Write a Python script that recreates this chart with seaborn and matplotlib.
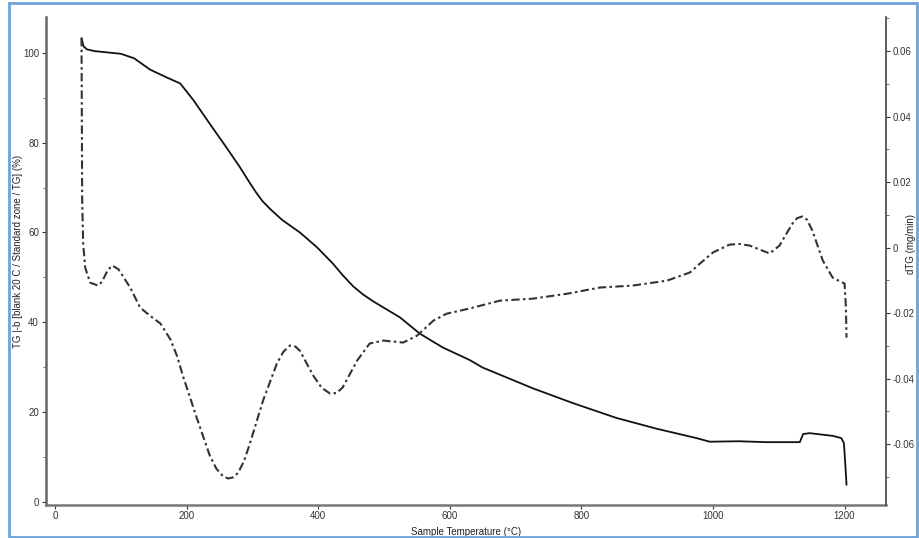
import matplotlib
matplotlib.use("Agg")
import matplotlib.pyplot as plt
import matplotlib.patches as patches
from matplotlib.ticker import MultipleLocator
import seaborn as sns
import pandas as pd

sns.set_style("white")
plt.rcParams['font.family'] = ['Liberation Sans', 'DejaVu Sans']

# TG curve (%)
tg_temp = [40, 43, 48, 60, 80, 100, 120, 144, 170, 190, 210, 236, 260, 281, 296, 305, 315,
           327, 345, 372, 398, 422, 437, 453, 468, 483, 524, 554, 589, 630, 650, 726, 787,
           853, 914, 975, 995, 1040, 1080, 1132, 1137, 1147, 1182, 1195, 1199, 1201, 1203]
tg_value = [103.3, 101.5, 100.8, 100.4, 100.1, 99.8, 98.8, 96.3, 94.5, 93.2, 89.5, 84.0, 79.0,
            74.5, 71.0, 69.0, 67.0, 65.2, 62.8, 60.0, 56.7, 53.1, 50.5, 48.0, 46.2, 44.7,
            41.1, 37.5, 34.4, 31.6, 29.9, 25.3, 22.0, 18.7, 16.3, 14.2, 13.4, 13.5, 13.3,
            13.3, 15.1, 15.3, 14.7, 14.2, 13.1, 8.7, 3.8]

# dTG curve (mg/min)
dtg_temp = [40, 41, 42.5, 45.6, 53, 65, 71, 80, 87, 96, 114, 129, 144, 160, 175, 185, 195,
            215, 235, 245, 255, 263, 270, 278, 287, 296, 316, 337, 347, 357, 365, 372, 392,
            405, 418, 428, 437, 459, 478, 499, 529, 550, 575, 595, 630, 676, 726, 778, 828,
            878, 930, 965, 980, 1000, 1025, 1040, 1056, 1086, 1101, 1121, 1128, 1136, 1143,
            1151, 1167, 1182, 1200, 1202, 1203]
dtg_value = [0.064, 0.0144, 0.0012, -0.0061, -0.0107, -0.0116, -0.0105, -0.0068, -0.0055,
             -0.0066, -0.0122, -0.0183, -0.0208, -0.0232, -0.0280, -0.0330, -0.0397, -0.0519,
             -0.0635, -0.0675, -0.0698, -0.0705, -0.0702, -0.0688, -0.0652, -0.0598, -0.0467,
             -0.0354, -0.0318, -0.0299, -0.0302, -0.0315, -0.0390, -0.0428, -0.0446, -0.0444,
             -0.0427, -0.0345, -0.0293, -0.0284, -0.0290, -0.0269, -0.0223, -0.0202, -0.0186,
             -0.0162, -0.0156, -0.0141, -0.0122, -0.0116, -0.0101, -0.0076, -0.0049, -0.0015,
             0.0009, 0.0011, 0.0006, -0.0018, 0.0006, 0.0074, 0.0090, 0.0095, 0.0085, 0.0052,
             -0.0040, -0.0092, -0.0110, -0.0180, -0.0275]

x_ticks = [0, 200, 400, 600, 800, 1000, 1200]
tg_ticks = [0, 20, 40, 60, 80, 100]
dtg_ticks = [-0.06, -0.04, -0.02, 0, 0.02, 0.04, 0.06]
dtg_labels = ["-0.06", "-0.04", "-0.02", "0", "0.02", "0.04", "0.06"]

tg_df = pd.DataFrame({"T": tg_temp, "TG": tg_value})
dtg_df = pd.DataFrame({"T": dtg_temp, "dTG": dtg_value})

fig = plt.figure(figsize=(9.2, 5.38), dpi=100)
ax = fig.add_axes([46 / 920, 1 - 505 / 538, (886 - 46) / 920, (505 - 17) / 538])
ax2 = ax.twinx()

sns.lineplot(data=tg_df, x="T", y="TG", ax=ax, color="#111111", linewidth=1.3,
             estimator=None, sort=False)
sns.lineplot(data=dtg_df, x="T", y="dTG", ax=ax2, color="#333333", linewidth=1.5,
             estimator=None, sort=False, linestyle=(0, (4, 1.6, 1.2, 1.6)))

ax.set_xlim(-14, 1263)
ax.set_ylim(-0.7, 108)
ax2.set_ylim(-0.0786, 0.0704)

tick_kw = dict(labelsize=7, colors="#333333", length=3, width=0.8, direction="out")
ax.set_xticks(x_ticks)
ax.set_xticklabels([str(v) for v in x_ticks])
ax.set_yticks(tg_ticks)
ax.set_yticklabels([str(v) for v in tg_ticks])
ax.yaxis.set_minor_locator(MultipleLocator(10))
ax.tick_params(axis="both", which="major", **tick_kw)
ax.tick_params(axis="y", which="minor", length=2, width=0.6, colors="#555555")
ax.tick_params(axis="x", bottom=True, pad=1.5)
ax.tick_params(axis="y", left=True, pad=2)

ax2.set_yticks(dtg_ticks)
ax2.set_yticklabels(dtg_labels)
ax2.yaxis.set_minor_locator(MultipleLocator(0.01))
ax2.tick_params(axis="y", which="major", right=True, pad=2, **tick_kw)
ax2.tick_params(axis="y", which="minor", right=True, length=2, width=0.6, colors="#555555")

for a in (ax, ax2):
    a.spines["top"].set_visible(False)
ax.spines["left"].set_color("#666666")
ax.spines["left"].set_linewidth(1.8)
ax.spines["bottom"].set_color("#777777")
ax.spines["bottom"].set_linewidth(1.8)
ax.spines["right"].set_visible(False)
ax2.spines["left"].set_visible(False)
ax2.spines["bottom"].set_visible(False)
ax2.spines["right"].set_color("#444444")
ax2.spines["right"].set_linewidth(1.2)

ax.set_xlabel("Sample Temperature (°C)", fontsize=7, color="#222222")
ax.xaxis.set_label_coords(0.5, -0.045)
ax.set_ylabel("TG |-b [blank 20 C / Standard zone / TG] (%)", fontsize=7, color="#222222")
ax.yaxis.set_label_coords(-0.027, 0.52)
ax2.set_ylabel("dTG (mg/min)", fontsize=7, color="#222222", rotation=90)
ax2.yaxis.set_label_coords(1.024, 0.535)

# light-blue frame around the whole picture
fig.patches.append(patches.Rectangle((9 / 920, 1.5 / 538), (917 - 9) / 920, (535 - 1.5) / 538,
                                     transform=fig.transFigure, fill=False,
                                     edgecolor="#6fa3d8", linewidth=2))

fig.savefig("out.png", dpi=100)
